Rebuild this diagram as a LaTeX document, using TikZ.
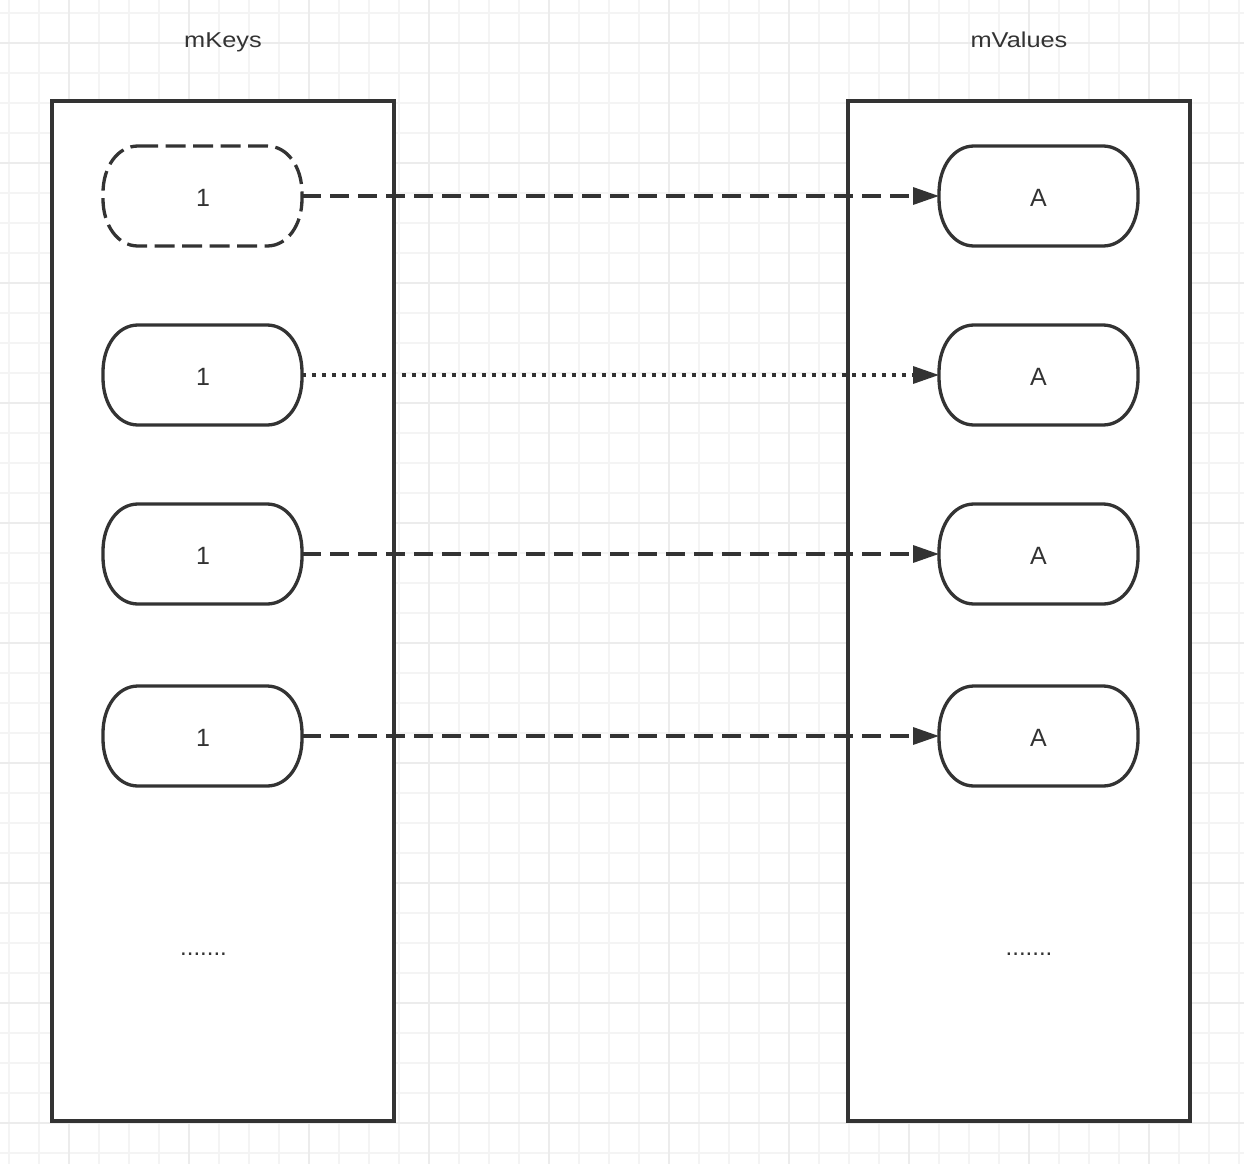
\documentclass[tikz,border=0pt]{standalone}
\usepackage{fontspec}
\setmainfont{Liberation Sans}
\newfontfamily\labelfont[FakeStretch=1.18]{Liberation Sans}
\usetikzlibrary{arrows.meta}
\definecolor{ink}{HTML}{333333}
\definecolor{gridminor}{HTML}{F4F4F4}
\definecolor{gridmajor}{HTML}{ECECEC}
\newcommand\pilloutline[2]{%
  \begin{scope}[shift={(#1.center)}]
    \draw[pillline,#2] (-64.5,-50) -- (64.5,-50)
      .. controls (85,-50) and (99.5,-29) .. (99.5,-3) -- (99.5,3)
      .. controls (99.5,29) and (85,50) .. (64.5,50) -- (-64.5,50)
      .. controls (-85,50) and (-99.5,29) .. (-99.5,3) -- (-99.5,-3)
      .. controls (-99.5,-29) and (-85,-50) .. cycle;
  \end{scope}}
\begin{document}
\begin{tikzpicture}[x=1pt,y=-1pt,
  container/.style={draw=ink, line width=3.3pt, fill=white, minimum width=342pt, minimum height=1020pt, inner sep=0pt},
  pill/.style={minimum width=199pt, minimum height=100pt, inner sep=0pt, outer sep=0pt},
  pillline/.style={draw=ink, line width=3.3pt, fill=white, line join=round},
  pilltext/.style={text=ink, anchor=base, inner sep=0pt, font=\fontsize{25}{30}\selectfont},
  title/.style={text=ink, anchor=base, inner sep=0pt, font=\fontsize{21.5}{26}\selectfont\labelfont},
  ellipsis/.style={text=ink, anchor=base, inner sep=0pt, font=\fontsize{24}{28}\selectfont},
  link/.style={draw=ink, line width=3.3pt, -{Triangle[length=26pt,width=17pt]}},
  dashlink/.style={link, dash pattern=on 19pt off 9pt},
  dotlink/.style={link, dash pattern=on 3.5pt off 6.5pt}
]
\useasboundingbox (0,0) rectangle (1244,1164);
\fill[white] (0,0) rectangle (1244,1164);
% grid
\foreach \x in {9,39,...,1239} \draw[gridminor, line width=2pt] (\x,0) -- (\x,1164);
\foreach \y in {13,43,...,1153} \draw[gridminor, line width=2pt] (0,\y) -- (1244,\y);
\foreach \x in {69,189,...,1149} \draw[gridmajor, line width=2pt] (\x,0) -- (\x,1164);
\foreach \y in {43,163,...,1123} \draw[gridmajor, line width=2pt] (0,\y) -- (1244,\y);

% containers
\node[container] (kbox) at (223,611) {};
\node[container] (vbox) at (1019,611) {};
\node[title] (klabel) at (223,47.7) {mKeys};
\node[title] (vlabel) at (1019,47.7) {mValues};

% pills
\node[pill] (k1) at (202.5,196) {};
\node[pill] (k2) at (202.5,375) {};
\node[pill] (k3) at (202.5,554) {};
\node[pill] (k4) at (202.5,736) {};
\node[pill] (v1) at (1038.5,196) {};
\node[pill] (v2) at (1038.5,375) {};
\node[pill] (v3) at (1038.5,554) {};
\node[pill] (v4) at (1038.5,736) {};
\pilloutline{k1}{dash pattern=on 20pt off 7.5pt}
\pilloutline{k2}{}
\pilloutline{k3}{}
\pilloutline{k4}{}
\pilloutline{v1}{}
\pilloutline{v2}{}
\pilloutline{v3}{}
\pilloutline{v4}{}

\node[pilltext] (t1) at (203,206) {1};
\node[pilltext] (t2) at (203,385) {1};
\node[pilltext] (t3) at (203,564) {1};
\node[pilltext] (t4) at (203,746) {1};
\node[pilltext] (a1) at (1038.5,206) {A};
\node[pilltext] (a2) at (1038.5,385) {A};
\node[pilltext] (a3) at (1038.5,564) {A};
\node[pilltext] (a4) at (1038.5,746) {A};

\node[ellipsis] (kdots) at (203.5,955) {.......};
\node[ellipsis] (vdots) at (1029,955) {.......};

% links
\draw[dashlink] (k1.east) -- (v1.west);
\draw[dotlink] (k2.east) -- (v2.west);
\draw[dashlink] (k3.east) -- (v3.west);
\draw[dashlink] (k4.east) -- (v4.west);
\end{tikzpicture}
\end{document}
